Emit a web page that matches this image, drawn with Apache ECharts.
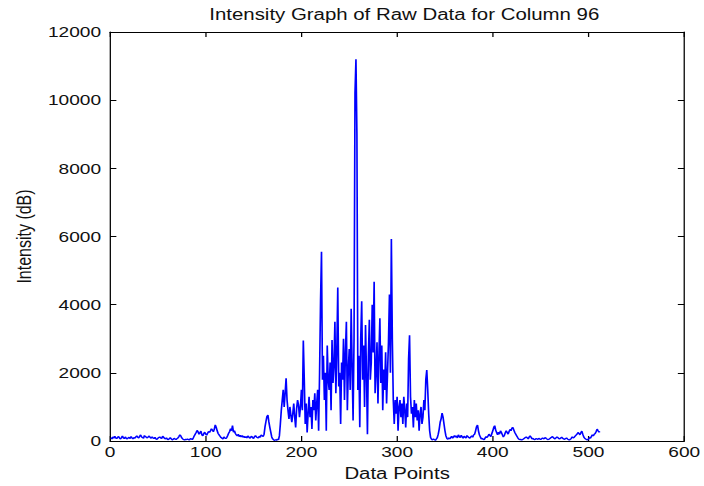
<!DOCTYPE html>
<html>
<head>
<meta charset="utf-8">
<script src="https://cdn.jsdelivr.net/npm/echarts@6/dist/echarts.min.js"></script>
<style>
html,body{margin:0;padding:0;background:#fff;overflow:hidden;width:704px;height:486px;}
#wrap{width:552px;height:486px;transform:scaleX(1.27536);transform-origin:0 0;}
</style>
</head>
<body>
<div id="wrap"></div>
<script>
const titleText = 'Intensity Graph of Raw Data for Column 96';
const xName = 'Data Points';
const yName = 'Intensity (dB)';
const xTicks = [0, 100, 200, 300, 400, 500, 600];
const yTicks = [0, 2000, 4000, 6000, 8000, 10000, 12000];
const intensity = [
100,60,120,80,140,90,70,110,130,80,
60,100,150,90,70,120,80,60,90,110,
70,130,90,60,100,80,120,150,110,90,
140,180,120,100,80,160,130,110,90,120,
150,100,80,120,90,70,110,60,50,80,
100,120,90,70,140,110,80,60,90,50,
40,70,100,60,30,50,80,60,40,70,
90,130,180,150,90,60,40,30,50,40,
60,40,30,70,60,40,90,150,200,250,
310,270,200,240,290,180,150,220,260,200,
170,230,280,250,300,360,320,270,350,470,
400,300,220,180,140,100,80,60,120,90,
70,100,160,230,280,360,300,450,260,300,
220,180,150,200,130,170,120,160,110,140,
100,130,90,150,120,80,110,140,100,70,
130,160,120,100,90,140,110,180,150,130,
200,420,580,720,760,560,400,260,120,60,
30,20,40,20,60,30,150,500,900,1200,
1500,1000,1400,1840,1200,900,650,1000,750,550,
800,1100,700,400,950,1200,1050,700,1000,1500,
900,2950,1800,500,1100,250,800,1300,700,1000,
350,1200,900,1400,600,1100,1500,300,2000,4100,
5550,1800,2500,1200,2000,300,2800,1800,1500,2300,
900,2960,1700,2200,3500,1400,2600,4500,1600,2000,
500,2300,1800,3000,1200,2600,3500,900,2100,2700,
1500,3880,2200,600,3000,10200,11200,9000,1500,2500,
400,3000,4100,1800,2800,1000,3400,2000,200,2500,
3560,1800,2300,4000,2600,4670,1400,2000,2900,1100,
2500,3600,1700,2800,900,2100,1500,2600,1100,2000,
2920,4300,2000,5930,3000,1200,500,1200,800,1300,
300,1000,1200,700,1100,500,1300,900,400,1100,
700,2400,3100,1300,800,1000,400,1200,700,1100,
600,900,300,800,1000,500,700,1200,900,1800,
2080,1500,800,300,100,50,30,60,40,20,
60,100,200,350,550,650,820,700,500,300,
150,80,50,90,60,100,140,80,120,160,
110,150,90,180,130,100,170,120,80,140,
110,90,160,130,100,80,120,150,110,180,
200,300,420,470,300,180,120,60,80,50,
40,90,130,100,150,200,160,130,220,300,
400,450,320,250,180,260,200,300,250,180,
120,160,240,300,250,200,280,340,300,380,
400,320,250,200,150,100,60,40,50,30,
40,60,80,100,120,90,60,120,150,110,
60,80,50,40,70,60,50,80,60,40,
70,90,60,80,100,70,50,40,60,80,
100,130,110,80,60,90,120,100,70,60,
90,110,80,60,50,70,90,60,40,30,
50,80,120,90,110,140,170,200,250,220,
180,240,290,200,120,80,60,40,30,60,
100,80,130,180,150,200,220,280,350,300,
260,280
];

const seriesData = intensity.map((v, i) => [i + 1, v]);
const FONT = 'Liberation Sans, Arial, sans-serif';
const black = '#000';
const plain = v => String(v);

function axisCommon(extra) {
  return Object.assign({
    axisLine: { show: true, onZero: false, lineStyle: { color: black, width: 1 } },
    axisTick: { show: true, inside: true, length: 5, lineStyle: { color: black, width: 1 } },
    splitLine: { show: false },
  }, extra);
}

const chart = echarts.init(document.getElementById('wrap'), null, { renderer: 'svg', width: 552, height: 486 });
chart.setOption({
  animation: false,
  backgroundColor: '#fff',
  title: {
    text: titleText,
    left: 312, top: 1, textAlign: 'center',
    textStyle: { fontFamily: FONT, fontSize: 16, fontWeight: 'normal', color: '#111' }
  },
  grid: { left: 86.25, right: 14.1, top: 32, bottom: 43, containLabel: false },
  xAxis: [
    axisCommon({
      type: 'value', position: 'bottom',
      min: xTicks[0], max: xTicks[xTicks.length - 1], interval: xTicks[1] - xTicks[0],
      axisLabel: { margin: 3, fontFamily: FONT, fontSize: 15, color: '#111', formatter: plain },
      name: xName, nameLocation: 'middle', nameGap: 24,
      nameTextStyle: { fontFamily: FONT, fontSize: 16, color: '#111' }
    }),
    axisCommon({
      type: 'value', position: 'top',
      min: xTicks[0], max: xTicks[xTicks.length - 1], interval: xTicks[1] - xTicks[0],
      axisLabel: { show: false }
    })
  ],
  yAxis: [
    axisCommon({
      type: 'value', position: 'left',
      min: yTicks[0], max: yTicks[yTicks.length - 1], interval: yTicks[1] - yTicks[0],
      axisLabel: { margin: 7, fontFamily: FONT, fontSize: 15, color: '#111', formatter: plain },
      name: yName, nameLocation: 'middle', nameGap: 57,
      nameTextStyle: { fontFamily: FONT, fontSize: 16, color: '#111' }
    }),
    axisCommon({
      type: 'value', position: 'right',
      min: yTicks[0], max: yTicks[yTicks.length - 1], interval: yTicks[1] - yTicks[0],
      axisLabel: { show: false }
    })
  ],
  series: [{
    type: 'line',
    data: seriesData,
    showSymbol: false,
    symbol: 'none',
    lineStyle: { color: '#0000ff', width: 1.3 },
    clip: true
  }]
});
</script>
</body>
</html>
